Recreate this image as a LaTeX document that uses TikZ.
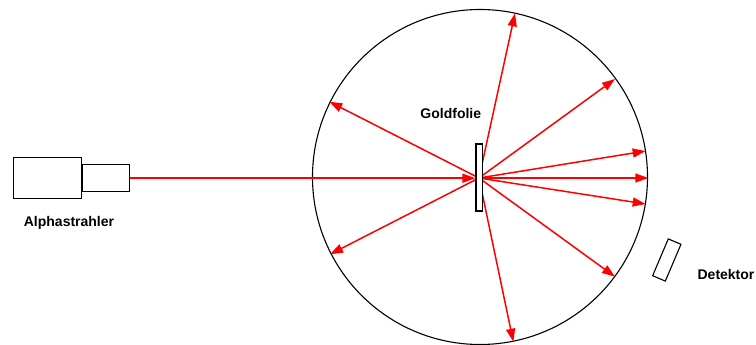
\documentclass[tikz,border=0pt]{standalone}
\usepackage{fontspec}
\setmainfont{Liberation Sans}
\usetikzlibrary{arrows.meta}
\begin{document}
\begin{tikzpicture}[x=1pt,y=-1pt,
  box/.style={draw=black,line width=1.1pt,fill=white,inner sep=0pt},
  ray/.style={draw=red,line width=1.5pt,-{Triangle[length=13pt,width=9pt]}},
  lab/.style={font=\bfseries\fontsize{14}{16}\selectfont,anchor=base,inner sep=0pt}]
\useasboundingbox (0,0) rectangle (756,345);
% chamber
\node[circle,draw=black,line width=1.1pt,minimum size=335pt,inner sep=0pt] (chamber) at (480,177) {};
% source
\node[box,minimum width=68pt,minimum height=40.7pt,anchor=north west] (gun) at (12.7,157.3) {};
\node[box,minimum width=47pt,minimum height=26.7pt,anchor=west] (nozzle) at (gun.east) {};
% centre of scattering
\coordinate (c) at (479,178);
\coordinate (e1) at (515,13.3);
\coordinate (e2) at (615,79);
\coordinate (e3) at (645.7,151);
\coordinate (e4) at (648.3,178);
\coordinate (e5) at (645.7,204);
\coordinate (e6) at (615,276.7);
\coordinate (e7) at (513.3,341.7);
\coordinate (e8) at (329.3,101.7);
\coordinate (e9) at (330,254.3);
\foreach \e in {e1,e2,e3,e4,e5,e6,e7,e8,e9} \draw[ray] (c) -- (\e);
% foil
\node[box,minimum width=6.5pt,minimum height=67pt] (foil) at (479.2,177.5) {};
\draw[ray] (nozzle.east) -- (foil.west |- nozzle.east);
% detector
\node[box,minimum width=13.8pt,minimum height=40pt,rotate=-23] (det) at (666.8,260) {};
% labels
\node[lab] (lalpha) at (69,226) {Alphastrahler};
\node[lab] (lgold) at (450.8,118.3) {Goldfolie};
\node[lab] (ldet) at (726,279.3) {Detektor};
\end{tikzpicture}
\end{document}
